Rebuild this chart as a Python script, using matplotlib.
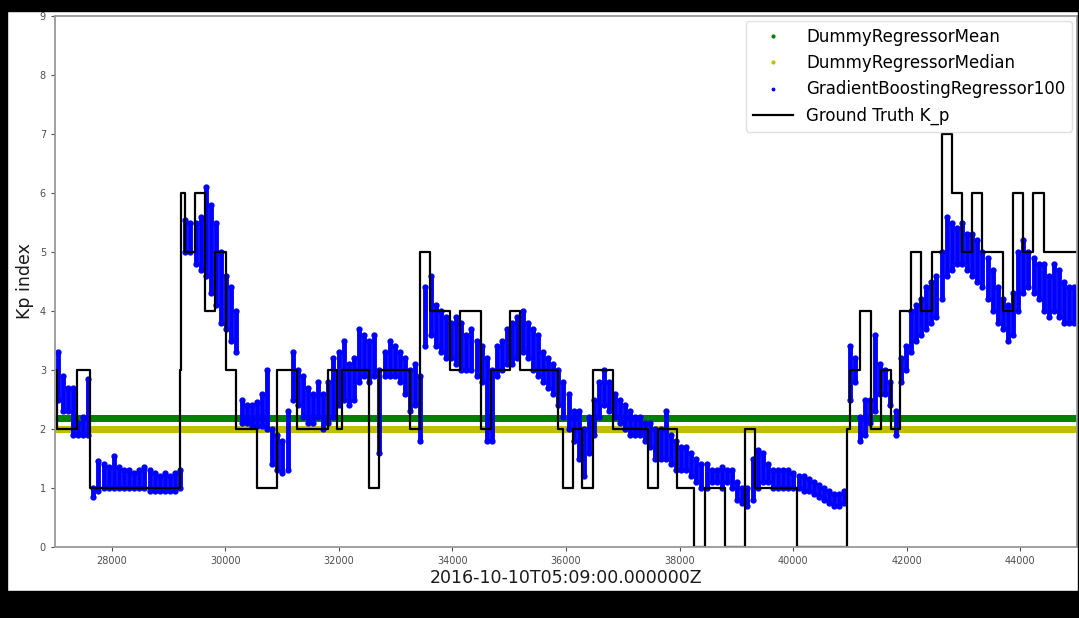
import numpy as np
import matplotlib.pyplot as plt
from matplotlib.patches import Rectangle

# prediction window (seconds since 2016-10-10T05:09:00Z)
x_min, x_max = 27000, 45000

# constant baselines
mean_kp = 2.18
median_kp = 2.0

# gradient boosting predictions: lower / upper spread of the point cloud,
# sampled every 90 s starting at 27045
gb_lo = [2.5, 2.3, 2.3, 1.9, 1.9, 1.9, 1.9, 0.85, 0.95, 1.0,
         1.0, 1.0, 1.0, 1.0, 1.0, 1.0, 1.0, 1.0, 0.95, 0.95,
         0.95, 0.95, 0.95, 0.95, 1.0, 5.0, 5.0, 4.8, 4.7, 4.6,
         4.3, 4.1, 3.8, 3.7, 3.5, 3.3, 2.1, 2.1, 2.05, 2.05,
         2.05, 2.0, 1.4, 1.3, 1.25, 1.3, 2.5, 2.4, 2.2, 2.1,
         2.1, 2.2, 2.0, 2.1, 2.2, 2.4, 2.5, 2.4, 2.5, 2.8,
         2.9, 2.8, 2.9, 1.6, 2.9, 2.9, 2.9, 2.8, 2.6, 2.3,
         2.4, 1.8, 3.4, 3.6, 3.4, 3.3, 3.2, 3.2, 3.1, 3.0,
         3.0, 3.0, 2.9, 2.8, 1.8, 1.8, 2.9, 3.0, 3.1, 3.1,
         3.2, 3.3, 3.2, 3.0, 2.9, 2.8, 2.7, 2.6, 2.4, 2.2,
         2.0, 1.8, 1.5, 1.2, 1.6, 1.9, 2.2, 2.4, 2.3, 2.2,
         2.1, 2.0, 1.9, 1.9, 1.9, 1.8, 1.7, 1.5, 1.5, 1.5,
         1.4, 1.3, 1.3, 1.3, 1.2, 1.1, 1.0, 1.0, 1.1, 1.1,
         1.0, 1.1, 1.0, 0.8, 0.75, 0.7, 0.8, 1.0, 1.1, 1.1,
         1.0, 1.0, 1.0, 1.0, 1.0, 1.0, 0.95, 0.95, 0.9, 0.85,
         0.8, 0.75, 0.7, 0.7, 0.75, 2.5, 2.8, 1.8, 1.9, 2.1,
         2.3, 2.6, 2.6, 2.4, 1.9, 2.8, 3.0, 3.3, 3.5, 3.6,
         3.7, 3.8, 3.9, 4.2, 4.6, 4.7, 4.8, 4.8, 4.7, 4.6,
         4.5, 4.4, 4.2, 4.0, 3.8, 3.7, 3.5, 3.6, 4.0, 4.3,
         4.4, 4.3, 4.2, 4.0, 3.9, 4.0, 3.9, 3.8, 3.8, 3.8]
gb_hi = [3.3, 2.9, 2.7, 2.7, 2.1, 2.2, 2.85, 1.0, 1.45, 1.4,
         1.35, 1.55, 1.35, 1.3, 1.3, 1.25, 1.3, 1.35, 1.3, 1.25,
         1.2, 1.25, 1.2, 1.25, 1.3, 5.55, 5.5, 5.5, 5.6, 6.1,
         5.8, 5.5, 5.0, 4.6, 4.4, 4.0, 2.5, 2.4, 2.4, 2.45,
         2.6, 3.0, 2.0, 1.9, 1.8, 2.3, 3.3, 3.0, 2.9, 2.7,
         2.6, 2.8, 2.6, 2.8, 3.2, 3.3, 3.5, 3.1, 3.2, 3.7,
         3.6, 3.5, 3.6, 3.0, 3.3, 3.5, 3.4, 3.3, 3.2, 3.0,
         3.1, 2.9, 4.4, 4.6, 4.1, 4.0, 3.9, 3.8, 3.9, 3.8,
         3.6, 3.7, 3.5, 3.4, 3.2, 3.0, 3.4, 3.5, 3.7, 3.8,
         3.9, 4.0, 3.8, 3.7, 3.6, 3.3, 3.2, 3.1, 3.0, 2.8,
         2.6, 2.3, 2.3, 2.0, 2.2, 2.5, 2.8, 3.0, 2.8, 2.6,
         2.5, 2.4, 2.3, 2.2, 2.2, 2.1, 2.1, 2.0, 2.0, 2.3,
         1.9, 1.8, 1.7, 1.7, 1.6, 1.5, 1.4, 1.4, 1.3, 1.3,
         1.35, 1.3, 1.3, 1.1, 1.0, 1.0, 1.5, 1.65, 1.6, 1.4,
         1.3, 1.3, 1.3, 1.3, 1.25, 1.2, 1.2, 1.15, 1.1, 1.05,
         1.0, 0.95, 0.9, 0.9, 0.95, 3.4, 3.2, 2.2, 2.5, 2.5,
         3.6, 3.1, 3.0, 2.8, 2.3, 3.2, 3.4, 4.0, 4.1, 4.2,
         4.4, 4.5, 4.6, 5.0, 5.6, 5.5, 5.4, 5.5, 5.3, 5.3,
         5.2, 5.0, 4.9, 4.7, 4.4, 4.2, 4.1, 4.3, 5.0, 5.2,
         5.0, 4.9, 4.8, 4.8, 4.6, 4.8, 4.7, 4.5, 4.4, 4.4]

# observed Kp: value holding from each change time onwards
kp_change = [26900, 27035, 27395, 27614, 29193, 29219, 29298, 29473, 29649,
             29824, 30017, 30192, 30561, 30911, 31262, 31806, 31964, 32052,
             32525, 32701, 33244, 33420, 33613, 33963, 34139, 34507, 34683,
             35016, 35191, 35858, 35945, 36121, 36279, 36472, 36822, 37436,
             37612, 37963, 38261, 38454, 38805, 39155, 39331, 40068, 40945,
             40998, 41173, 41365, 41541, 41716, 41891, 42084, 42260, 42447,
             42622, 42798, 42974, 43154, 43330, 43693, 43868, 44054, 44229,
             44412]
kp_value = [3, 2, 3, 1, 3, 6, 5, 6, 4,
            5, 3, 2, 1, 3, 2, 3, 2, 3,
            1, 3, 2, 5, 4, 3, 4, 2, 3,
            4, 3, 2, 1, 2, 1, 3, 2, 1,
            2, 1, 0, 1, 0, 2, 1, 0, 2,
            3, 4, 2, 3, 2, 4, 5, 4, 5,
            7, 6, 5, 6, 5, 4, 6, 5, 6,
            5]


def draw():
    gb_t = 27045 + 90 * np.arange(len(gb_lo))
    base_t = 26950 + 15 * np.arange(1210)

    fig = plt.figure(figsize=(10.79, 6.18), dpi=100)
    ax = fig.add_axes([55 / 1079, 71 / 618, 1022 / 1079, 531 / 618])

    ax.plot(base_t, np.full(len(base_t), mean_kp), '.', color='g', ms=8,
            label='DummyRegressorMean')
    ax.plot(base_t, np.full(len(base_t), median_kp), '.', color='y', ms=8,
            label='DummyRegressorMedian')

    # the dense prediction cloud: spread per sample plus the edge points
    ax.vlines(gb_t, gb_lo, gb_hi, colors='b', lw=3.5, capstyle='round')
    ax.plot(np.r_[gb_t, gb_t], np.r_[gb_lo, gb_hi], '.', color='b', ms=7,
            label='GradientBoostingRegressor100')

    ax.step(kp_change + [45200], kp_value + [kp_value[-1]], where='post',
            color='k', lw=1.6, label='Ground Truth K_p')

    ax.set_xlim(x_min, x_max)
    ax.set_ylim(0, 9)
    ax.set_xticks(np.arange(28000, 45000, 2000))
    ax.set_yticks(np.arange(0, 10, 1))
    ax.tick_params(labelsize=7, colors='0.3', length=3, width=0.8)
    for s in ax.spines.values():
        s.set_color('0.6')
        s.set_linewidth(1.3)

    ax.set_xlabel('2016-10-10T05:09:00.000000Z', fontsize=12.5, color='0.1',
                  labelpad=2)
    ax.set_ylabel('Kp index', fontsize=12.5, color='0.1', labelpad=4)

    leg = ax.legend(loc='upper right', fontsize=12, markerscale=0.5,
                    handlelength=2.4, borderpad=0.4, labelspacing=0.5,
                    bbox_to_anchor=(1.0, 1.0), borderaxespad=0.3)
    leg.get_frame().set_edgecolor('0.85')

    # dark border strips around the white canvas
    for x0, y0, w, h in [(0, 0.982, 1, 0.018), (0, 0, 7 / 1079, 1),
                         (0, 0, 1, 27 / 618), (1078 / 1079, 0, 1 / 1079, 1)]:
        fig.add_artist(Rectangle((x0, y0), w, h, transform=fig.transFigure,
                                 color='k', zorder=10))

    fig.savefig('out.png', dpi=100)


if __name__ == '__main__':
    draw()
